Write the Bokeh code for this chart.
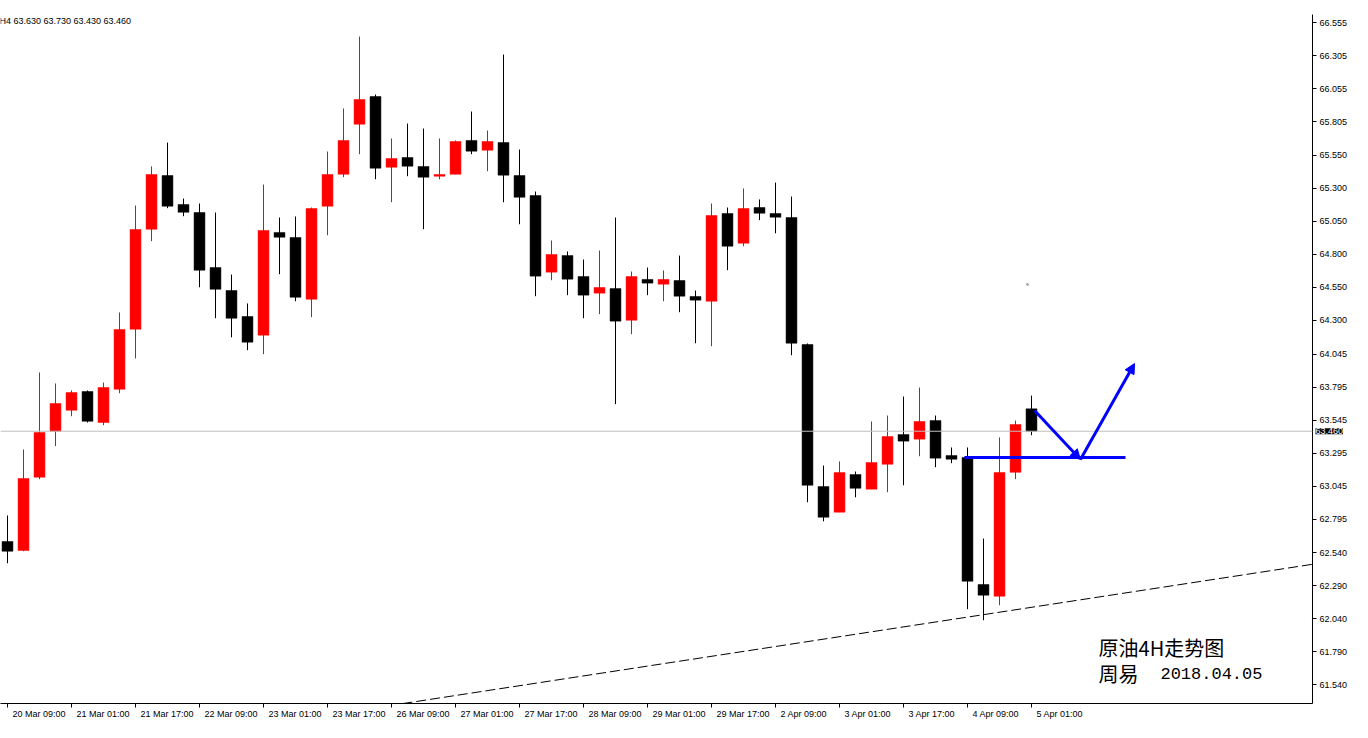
from bokeh.plotting import figure
from bokeh.models import (FixedTicker, NumeralTickFormatter, Span, Label, Arrow,
                          NormalHead, Range1d, ColumnDataSource, LinearAxis)
from bokeh.embed import file_html
from bokeh.resources import INLINE

# ---- data (XTI H4, 20 Mar 09:00 .. 5 Apr 01:00) ----
tick_idx = list(range(0, 65, 4))
tick_labels = ["20 Mar 09:00", "21 Mar 01:00", "21 Mar 17:00", "22 Mar 09:00",
               "23 Mar 01:00", "23 Mar 17:00", "26 Mar 09:00", "27 Mar 01:00",
               "27 Mar 17:00", "28 Mar 09:00", "29 Mar 01:00", "29 Mar 17:00",
               "2 Apr 09:00", "3 Apr 01:00", "3 Apr 17:00", "4 Apr 09:00",
               "5 Apr 01:00"]

opens = [62.625, 62.557, 63.112, 63.460, 63.619, 63.761, 63.526, 63.778, 64.233, 64.990,
         65.397, 65.178, 65.117, 64.700, 64.526, 64.329, 64.188, 64.966, 64.928, 64.460,
         65.165, 65.407, 65.786, 65.996, 65.460, 65.534, 65.466, 65.392, 65.407, 65.663,
         65.589, 65.647, 65.397, 65.246, 64.665, 64.791, 64.632, 64.506, 64.541, 64.301,
         64.610, 64.574, 64.602, 64.481, 64.445, 65.110, 64.885, 65.155, 65.110, 65.079,
         64.117, 63.041, 62.847, 63.132, 63.021, 63.210, 63.435, 63.400, 63.541, 63.276,
         63.261, 62.299, 62.210, 63.149, 63.630]
highs = [62.822, 63.322, 63.905, 63.822, 63.769, 63.769, 63.829, 64.360, 65.170, 65.466,
         65.647, 65.223, 65.185, 65.117, 64.647, 64.428, 65.329, 65.079, 65.087, 65.155,
         65.579, 65.905, 66.450, 66.011, 65.678, 65.791, 65.753, 65.678, 65.663, 65.882,
         65.738, 66.314, 65.594, 65.276, 64.905, 64.822, 64.761, 64.829, 65.079, 64.670,
         64.700, 64.678, 64.791, 64.526, 65.185, 65.155, 65.299, 65.216, 65.344, 65.238,
         64.125, 63.200, 63.231, 63.155, 63.534, 63.579, 63.723, 63.791, 63.579, 63.337,
         63.337, 62.647, 63.413, 63.541, 63.730]
lows = [62.460, 62.551, 63.097, 63.347, 63.574, 63.526, 63.506, 63.748, 64.011, 64.900,
        65.150, 65.089, 64.551, 64.316, 64.172, 64.074, 64.044, 64.650, 64.445, 64.324,
        64.945, 65.385, 65.559, 65.369, 65.195, 65.392, 64.991, 65.369, 65.407, 65.559,
        65.430, 65.195, 65.028, 64.483, 64.604, 64.491, 64.316, 64.347, 63.665, 64.195,
        64.491, 64.445, 64.362, 64.127, 64.104, 64.680, 64.862, 65.059, 64.960, 64.036,
        62.922, 62.778, 62.847, 62.960, 63.021, 62.998, 63.051, 63.271, 63.188, 63.218,
        62.112, 62.028, 62.142, 63.097, 63.430]
closes = [62.551, 63.102, 63.450, 63.670, 63.753, 63.536, 63.791, 64.231, 64.988, 65.405,
          65.165, 65.119, 64.680, 64.536, 64.316, 64.135, 64.981, 64.930, 64.475, 65.147,
          65.405, 65.663, 65.973, 65.453, 65.526, 65.468, 65.385, 65.405, 65.655, 65.582,
          65.655, 65.400, 65.233, 64.635, 64.799, 64.612, 64.491, 64.549, 64.294, 64.632,
          64.582, 64.610, 64.483, 64.453, 65.094, 64.862, 65.147, 65.112, 65.082, 64.127,
          63.051, 62.809, 63.147, 63.028, 63.223, 63.420, 63.385, 63.534, 63.256, 63.248,
          62.324, 62.218, 63.147, 63.511, 63.460]

price_ticks = [66.555, 66.305, 66.055, 65.805, 65.550, 65.300, 65.050, 64.800, 64.550,
               64.300, 64.045, 63.795, 63.545, 63.295, 63.045, 62.795, 62.540, 62.290,
               62.040, 61.790, 61.540, 61.290]
last_price = 63.460
header_text = "H4  63.630 63.730 63.430 63.460"

# drawn annotations (bar index, price)
trend_x = [18.625, 82.69]
trend_y = [61.284, 62.473]
support_x = [59.81, 69.875]
support_y = [63.261, 63.261]
arrow1 = (64.19, 63.617, 67.06, 63.246)
arrow2 = (67.06, 63.246, 70.44, 63.973)
stray_dot = (63.75, 64.572)
note_title = "原油4H走势图"
note_author = "周易"
note_date = "2018.04.05"

# ---- layout constants ----
W, H = 1352, 722
BT, BR, BB = 14, 40, 19         # top (price-tag panel) / right / bottom panels
FW, FH = W - BR, H - BT - BB    # frame size
PX = 16.0                       # pixels per bar
X0 = -7.0 / PX                  # bar 0 centre 7px from left edge
PPU = 132.0                     # pixels per price unit
Y_TOP = 66.555 - (BT - 22.2) / PPU
X1 = X0 + FW / PX
Y_BOT = Y_TOP - FH / PPU

FONT = "Liberation Sans"
FS = "9px"

p = figure(width=W, height=H, output_backend="svg", toolbar_location=None,
           x_range=Range1d(X0, X1), y_range=Range1d(Y_BOT, Y_TOP),
           y_axis_location="right", min_border_left=0, min_border_top=BT,
           min_border_right=BR, min_border_bottom=BB)
p.outline_line_color = None
p.background_fill_color = "white"
p.border_fill_color = "white"
p.xgrid.visible = False
p.ygrid.visible = False

src = ColumnDataSource(dict(
    x=list(range(len(opens))),
    top=[max(o, c) for o, c in zip(opens, closes)],
    bottom=[min(o, c) for o, c in zip(opens, closes)],
    high=highs, low=lows,
    color=["#FF0000" if c >= o else "#000000" for o, c in zip(opens, closes)],
))

p.add_layout(Span(location=last_price, dimension="width", line_color="#C0C0C0", line_width=1))

p.segment(x0="x", y0="low", x1="x", y1="high", line_color="color", line_width=1, source=src)
p.vbar(x="x", width=0.68, top="top", bottom="bottom", fill_color="color",
       line_color="color", line_width=0.5, source=src)

p.line(trend_x, trend_y, line_color="black", line_width=1, line_dash="10 4")
p.line(support_x, support_y, line_color="#0000FF", line_width=3)
for (xs, ys, xe, ye) in (arrow1, arrow2):
    p.add_layout(Arrow(end=NormalHead(size=10, fill_color="#0000FF", line_color="#0000FF"),
                       x_start=xs, y_start=ys, x_end=xe, y_end=ye,
                       line_color="#0000FF", line_width=3))
p.scatter([stray_dot[0]], [stray_dot[1]], size=2, color="#A0A0A0")

# ---- x axis: tick marks at bars, labels left-aligned just right of each tick ----
xa = p.xaxis[0]
xa.ticker = FixedTicker(ticks=tick_idx)
xa.major_label_overrides = {i: "" for i in tick_idx}
xa.major_label_text_font_size = "1px"
xa.major_label_standoff = 0
xa.major_tick_out = 4
xa.major_tick_in = 0
xa.minor_tick_line_color = None
xa.axis_line_color = "black"
xa.major_tick_line_color = "black"

# approximate advance widths (em/1000) of Liberation Sans for label centring
ADV = {c: 556 for c in "0123456789"}
ADV.update({" ": 278, ":": 278, "M": 833, "a": 556, "r": 333, "A": 667, "p": 556})
fs_px = float(FS.replace("px", ""))
def text_w(s):
    return sum(ADV.get(ch, 556) for ch in s) / 1000.0 * fs_px

label_pos = [round(i + (5 + text_w(t) / 2) / PX, 4) for i, t in zip(tick_idx, tick_labels)]
lab_ax = LinearAxis(ticker=FixedTicker(ticks=label_pos),
                    major_label_overrides={k: t for k, t in zip(label_pos, tick_labels)},
                    major_tick_line_color=None, minor_tick_line_color=None,
                    axis_line_color=None, major_tick_out=0, major_tick_in=0,
                    major_label_standoff=1, major_label_text_font=FONT,
                    major_label_text_font_size=FS, major_label_text_color="black")
p.add_layout(lab_ax, "below")

# ---- price axis ----
ya = p.yaxis[0]
ya.ticker = FixedTicker(ticks=price_ticks)
ya.formatter = NumeralTickFormatter(format="0.000")
ya.major_tick_out = 4
ya.major_tick_in = 0
ya.minor_tick_line_color = None
ya.major_label_standoff = 3
ya.major_label_text_font = FONT
ya.major_label_text_font_size = FS
ya.major_label_text_color = "black"
ya.axis_line_color = "black"
ya.major_tick_line_color = "black"

# ---- texts ----
p.add_layout(Label(x=X0, y=Y_TOP, x_offset=-1, y_offset=-1, text=header_text,
                   text_font=FONT, text_font_size=FS, text_color="black",
                   text_baseline="top", text_align="left"))
# current-price tag on the price scale (held in a side panel so it is not clipped)
price_tag = Label(x=X1, y=last_price, x_offset=3, text="63.460",
                  text_font=FONT, text_font_size=FS, text_color="white",
                  background_fill_color="black", text_baseline="middle", text_align="left")
p.add_layout(price_tag, "above")
p.add_layout(Label(x=68.19, y=61.822, text=note_title, text_font="Noto Sans CJK SC",
                   text_font_size="20px", text_color="black", text_baseline="middle",
                   text_align="left"))
p.add_layout(Label(x=68.19, y=61.625, text=note_author, text_font="Noto Sans CJK SC",
                   text_font_size="20px", text_color="black", text_baseline="middle",
                   text_align="left"))
p.add_layout(Label(x=72.06, y=61.625, text=note_date, text_font="Liberation Mono",
                   text_font_size="17px", text_color="black", text_baseline="middle",
                   text_align="left"))

open("out.html", "w").write(file_html(p, INLINE))
